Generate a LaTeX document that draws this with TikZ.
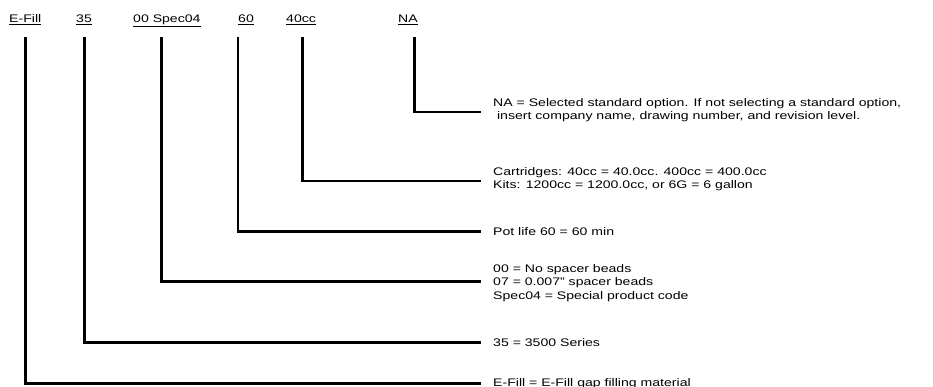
\documentclass[tikz,border=0pt]{standalone}
\usepackage{fontspec}
\setmainfont{Liberation Sans}[FakeStretch=1.28]
\begin{document}
\begin{tikzpicture}[x=1pt,y=-1pt,
        code/.style={anchor=base west, inner sep=0pt, font=\fontsize{11}{13.5}\selectfont},
        desc/.style={anchor=north west, inner sep=0pt, align=left, font=\fontsize{11}{13.5}\selectfont},
        lead/.style={black, line width=2.7pt}]
        \useasboundingbox (0,0) rectangle (933,387);
        % part number fields and the tops of their leaders
        \foreach \n/\x/\t/\lx in {efill/9/E-Fill/25.3, ser/76/35/84.3, bead/133/00 Spec04/161.7, pot/238/60/238, vol/286/40cc/302.7, opt/398/NA/414.3} {
                \node[code] (\n) at (\x,23) {\underline{\t}};
                \coordinate (\n top) at (\lx,37);
            }
        % explanations
        \node[desc] (dopt) at (493,98) {NA = Selected standard option. If not selecting a standard option,\\\ insert company name, drawing number, and revision level.};
        \node[desc] (dvol) at (493,167) {Cartridges: 40cc = 40.0cc. 400cc = 400.0cc\\Kits: 1200cc = 1200.0cc, or 6G = 6 gallon};
        \node[desc] (dpot) at (493,227) {Pot life 60 = 60 min};
        \node[desc] (dbead) at (493,264) {00 = No spacer beads\\07 = 0.007" spacer beads\\Spec04 = Special product code};
        \node[desc] (dser) at (493,338) {35 = 3500 Series};
        \node[desc] (defill) at (493,378) {E-Fill = E-Fill gap filling material};
        \foreach \n/\d/\dy in {efill/defill/0, ser/dser/0, bead/dbead/1.5, pot/dpot/0, vol/dvol/-2, opt/dopt/-2} {
                \draw[lead] (\n top) |- ([xshift=-12pt,yshift=\dy pt]\d.west);
            }
    \end{tikzpicture}
\end{document}
